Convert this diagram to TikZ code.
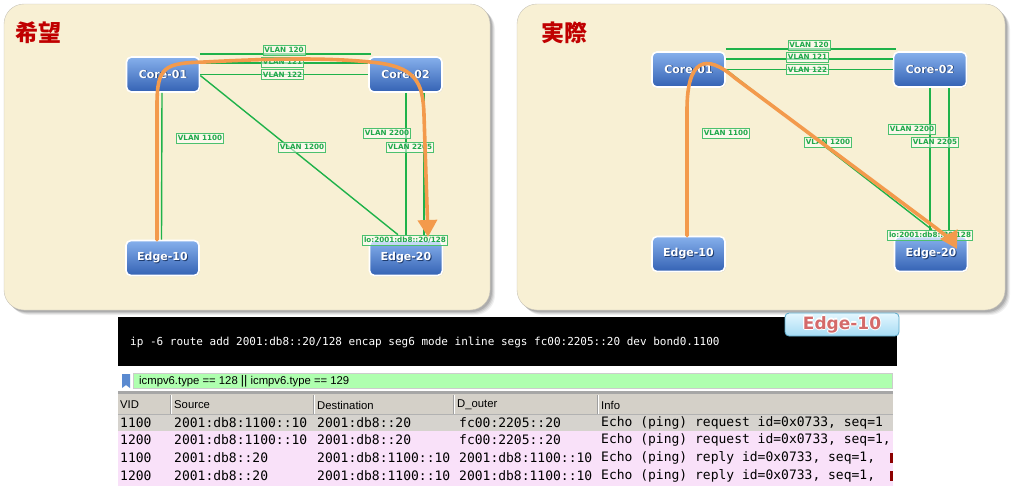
\documentclass[tikz,border=0pt]{standalone}
\usepackage{fontspec}
\setmainfont{DejaVu Sans}
\newfontfamily\cjkfont{Noto Sans CJK JP}
\newfontfamily\monofont{DejaVu Sans Mono}
\newfontfamily\uifont{Liberation Sans}
\usetikzlibrary{arrows.meta,shadows}
\definecolor{cream}{HTML}{F8F0D4}
\definecolor{panelborder}{HTML}{C8C4B8}
\definecolor{vgreen}{HTML}{1FB24A}
\definecolor{vtext}{HTML}{1FA84A}
\definecolor{orng}{HTML}{F39A4C}
\definecolor{titlered}{HTML}{C00000}
\definecolor{nodetop}{HTML}{86B0EC}
\definecolor{nodebot}{HTML}{3462B4}
\definecolor{nodeshadow}{HTML}{1E3C70}
\definecolor{tagtop}{HTML}{E4F7FF}
\definecolor{tagbot}{HTML}{A6DBF3}
\definecolor{tagborder}{HTML}{5AA8C8}
\definecolor{tagred}{HTML}{D46A6A}
\definecolor{rowgray}{HTML}{D6D3CE}
\definecolor{hdrgray}{HTML}{D4D0C8}
\definecolor{pinkrow}{HTML}{F9E1F9}
\definecolor{filtergreen}{HTML}{AFFFAF}
\definecolor{bookblue}{HTML}{5A8AD0}
\newcommand{\shtext}[1]{\makebox[0pt][l]{\hspace{0.9pt}\raisebox{-0.9pt}{\textcolor{nodeshadow}{#1}}}#1}
\newcommand{\outltext}[1]{%
\makebox[0pt][l]{\hspace{-1.2pt}\textcolor{white}{#1}}%
\makebox[0pt][l]{\hspace{1.2pt}\textcolor{white}{#1}}%
\makebox[0pt][l]{\raisebox{1.2pt}{\textcolor{white}{#1}}}%
\makebox[0pt][l]{\raisebox{-1.2pt}{\textcolor{white}{#1}}}%
\textcolor{tagred}{#1}}
\begin{document}
\begin{tikzpicture}[x=1pt,y=-1pt,
  dev/.style={rectangle, rounded corners=5pt, draw=white, line width=1.6pt,
    top color=nodetop, bottom color=nodebot, minimum width=73pt, minimum height=35pt,
    font=\bfseries\fontsize{11}{13}\selectfont, text=white,
    drop shadow={opacity=0.25,shadow xshift=0.8pt,shadow yshift=-0.8pt}},
  vlan/.style={draw=vgreen!80, line width=0.6pt, fill=white, fill opacity=0.55, text opacity=1,
    text=vtext, font=\bfseries\fontsize{7.2}{8}\selectfont, inner sep=1.3pt, minimum height=10pt},
  link/.style={draw=vgreen, line width=1.4pt},
  flow/.style={draw=orng, line width=3.6pt, line cap=round, line join=round,
    -{Triangle[length=17pt,width=19pt]}},
  title/.style={font=\cjkfont\bfseries\fontsize{23}{23}\selectfont, text=titlered, inner sep=0pt, anchor=west},
  cell/.style={anchor=west, inner sep=0pt, font=\monofont\fontsize{13}{13}\selectfont},
  hcell/.style={anchor=west, inner sep=0pt, font=\uifont\fontsize{11.3}{12}\selectfont}
]
\useasboundingbox (0,0) rectangle (1014,488);
\fill[white] (0,0) rectangle (1014,488);

% ---------- panels ----------
\foreach \d/\o in {5/0.06,4/0.08,3/0.10,2/0.12}{
  \fill[black, opacity=\o, rounded corners=20pt] (4+\d,4+\d) rectangle (490+\d,310+\d);
  \fill[black, opacity=\o, rounded corners=20pt] (517+\d,4+\d) rectangle (1005+\d,310+\d);
}
\draw[panelborder, fill=cream, rounded corners=20pt] (4,4) rectangle (490,310);
\draw[panelborder, fill=cream, rounded corners=20pt] (517,4) rectangle (1005,310);

\node[title] (t1) at (15,33) {希望};
\node[title] (t2) at (541,33) {実際};

% ---------- left panel ----------
\node[dev] (c1L) at (163,74.5) {\shtext{Core-01}};
\node[dev] (c2L) at (405.5,74.5) {\shtext{Core-02}};
\node[dev] (e10L) at (162.5,258) {\shtext{Edge-10}};
\node[dev] (e20L) at (406,258) {\shtext{Edge-20}};
\node[vlan] (loL) at (405,240) {lo:2001:db8::20/128};

\draw[link] ([yshift=20.5pt]c1L.east) -- ([xshift=3pt,yshift=20.5pt]c2L.west) node[vlan, pos=0.49, yshift=4pt] (v120L) {VLAN 120};
\draw[link] ([yshift=11.5pt]c1L.east) -- ([yshift=11.5pt]c2L.west) node[vlan, pos=0.49, yshift=1pt] (v121L) {VLAN 121};
\draw[link] (c1L.east) -- (c2L.west) node[vlan, pos=0.49] (v122L) {VLAN 122};
\draw[link] ([xshift=-1pt]c1L.south) -- ([xshift=-1pt]e10L.north);
\node[vlan] (v1100L) at (200,138) {VLAN 1100};
\draw[link] ([yshift=-1pt]c1L.east) -- (loL.north west -| 398,0) ;
\node[vlan] (v1200L) at (302,147) {VLAN 1200};
\draw[link] ([xshift=0.5pt]c2L.south) -- ([xshift=0.5pt]loL.north -| c2L.south);
\draw[link] ([xshift=18.5pt]c2L.south) -- ([xshift=18.5pt]loL.north -| c2L.south);
\node[vlan] (v2200L) at (387,133) {VLAN 2200};
\node[vlan] (v2205L) at (410,147) {VLAN 2205};

\draw[flow] (e10L.north -| 157,0) -- (157,105)
  .. controls (157,66) and (165,63) .. (205,62)
  .. controls (280,58) and (330,58) .. (370,62)
  .. controls (416,66) and (423,82) .. (424,115)
  -- (428,237);

% ---------- right panel ----------
\node[dev] (c1R) at (688.5,69.5) {\shtext{Core-01}};
\node[dev] (c2R) at (930,69.5) {\shtext{Core-02}};
\node[dev] (e10R) at (688.5,254) {\shtext{Edge-10}};
\node[dev] (e20R) at (931,254) {\shtext{Edge-20}};
\node[vlan] (loR) at (930,235) {lo:2001:db8::20/128};

\draw[link] ([yshift=20.5pt]c1R.east) -- ([xshift=3pt,yshift=20.5pt]c2R.west) node[vlan, pos=0.49, yshift=4pt] (v120R) {VLAN 120};
\draw[link] ([yshift=10.5pt]c1R.east) -- ([yshift=10.5pt]c2R.west) node[vlan, pos=0.49, yshift=2pt] (v121R) {VLAN 121};
\draw[link] (c1R.east) -- (c2R.west) node[vlan, pos=0.49] (v122R) {VLAN 122};
\draw[link] (c1R.south) -- (e10R.north);
\node[vlan] (v1100R) at (726,133) {VLAN 1100};
\draw[link] (c1R.east) -- (loR.north -| 932,0);
\draw[link] (c2R.south) -- (loR.north -| c2R.south);
\draw[link] ([xshift=19pt]c2R.south) -- ([xshift=19pt]loR.north -| c2R.south);
\node[vlan] (v1200R) at (828,142) {VLAN 1200};
\node[vlan] (v2200R) at (912,129) {VLAN 2200};
\node[vlan] (v2205R) at (935,142) {VLAN 2205};

\draw[flow] (e10R.north -| 687,0) -- (687,110)
  .. controls (687,60) and (705,52) .. (735,78)
  -- (936,228)
  .. controls (946,236) and (952,240) .. (957,249);

% ---------- terminal ----------
\node[fill=black, minimum width=779pt, minimum height=49pt, inner sep=0pt, anchor=north west] (term) at (118,317) {};
\node[anchor=west, inner sep=0pt, text=white, font=\monofont\fontsize{11}{11}\selectfont] (cmd) at (130,342)
  {ip -6 route add 2001:db8::20/128 encap seg6 mode inline segs fc00:2205::20 dev bond0.1100};
\node[rounded corners=4pt, draw=tagborder, line width=0.8pt, top color=tagtop, bottom color=tagbot,
  minimum width=114pt, minimum height=23pt, inner sep=0pt,
  font=\bfseries\fontsize{17}{17}\selectfont] (tag) at (842,324.5) {\outltext{Edge-10}};

% ---------- packet list ----------
\node[fill=filtergreen, draw=gray!40, minimum width=759pt, minimum height=15pt, inner sep=0pt, anchor=north west] (filter) at (133,373) {};
\fill[bookblue] (122,374) -- (130,374) -- (130,388) -- (126,385) -- (122,388) -- cycle;
\node[hcell] (ftext) at (139,381) {icmpv6.type == 128 {\fontsize{12.5}{12}\selectfont||} icmpv6.type == 129};

\begin{scope}
\clip (118,390) rectangle (893,488);
\fill[gray!70] (118,391) rectangle (893,394);
\fill[hdrgray] (118,394) rectangle (893,415);
\draw[gray!60] (118,414.5) -- (893,414.5);
\foreach \sx in {170,313,453,597}{
  \draw[gray!75] (\sx,395) -- (\sx,414);
  \draw[white] (\sx+1,395) -- (\sx+1,414);
}
\fill[rowgray] (118,415) rectangle (893,431);
\fill[pinkrow] (118,431) rectangle (893,486);

\node[hcell] (hvid) at (120,405) {VID};
\node[hcell] (hsrc) at (174,405) {Source};
\node[hcell] (hdst) at (317,405) {Destination};
\node[hcell] (hdo) at (457,405) {D\_outer};
\node[hcell] (hinfo) at (601,405) {Info};

\node[cell] (r1a) at (120,422.5) {1100};
\node[cell] (r1b) at (174,422.5) {2001:db8:1100::10};
\node[cell] (r1c) at (317,422.5) {2001:db8::20};
\node[cell] (r1d) at (459,422.5) {fc00:2205::20};
\node[cell] (r1e) at (601,422.5) {Echo (ping) request id=0x0733, seq=1};

\node[cell] (r2a) at (120,440) {1200};
\node[cell] (r2b) at (174,440) {2001:db8:1100::10};
\node[cell] (r2c) at (317,440) {2001:db8::20};
\node[cell] (r2d) at (459,440) {fc00:2205::20};
\node[cell] (r2e) at (601,440) {Echo (ping) request id=0x0733, seq=1,};

\node[cell] (r3a) at (120,458) {1100};
\node[cell] (r3b) at (174,458) {2001:db8::20};
\node[cell] (r3c) at (317,458) {2001:db8:1100::10};
\node[cell] (r3d) at (459,458) {2001:db8:1100::10};
\node[cell] (r3e) at (601,458) {Echo (ping) reply id=0x0733, seq=1,};

\node[cell] (r4a) at (120,476) {1200};
\node[cell] (r4b) at (174,476) {2001:db8::20};
\node[cell] (r4c) at (317,476) {2001:db8:1100::10};
\node[cell] (r4d) at (459,476) {2001:db8:1100::10};
\node[cell] (r4e) at (601,476) {Echo (ping) reply id=0x0733, seq=1,};

\fill[red!55!black] (890,453) rectangle (893,463);
\fill[red!55!black] (890,471) rectangle (893,481);
\end{scope}
\end{tikzpicture}
\end{document}
